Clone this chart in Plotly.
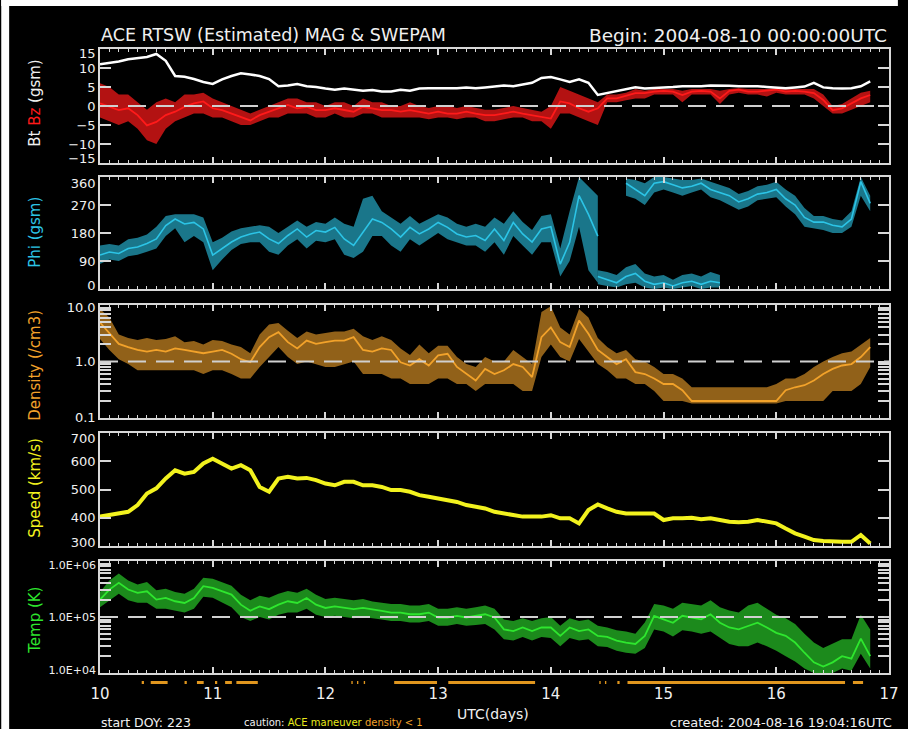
import math
import plotly.graph_objects as go

# ---------------- data (2-hour sampling from 2004-08-10 00 UT) ----------
hours = list(range(0, 166, 2))          # hours since day 10.0

bt = [11.0, 11.4, 11.7, 12.3, 12.6, 12.9, 13.7, 11.9, 7.9, 7.7,
      7.1, 6.3, 5.8, 7.0, 7.9, 8.6, 8.3, 7.9, 7.1, 5.2,
      5.4, 5.8, 5.2, 5.0, 4.6, 4.3, 4.6, 4.3, 4.0, 4.2,
      3.8, 3.8, 4.3, 4.0, 4.6, 4.7, 4.7, 4.7, 4.7, 4.9,
      4.7, 4.9, 5.2, 5.4, 5.2, 5.6, 6.1, 7.4, 7.6, 7.0,
      6.3, 7.0, 6.1, 2.9, 3.4, 4.0, 4.3, 4.9, 4.6, 4.7,
      4.9, 5.0, 5.2, 5.2, 5.2, 5.4, 5.4, 5.3, 5.2, 5.2,
      5.2, 5.0, 4.9, 4.7, 4.9, 5.1, 6.1, 4.9, 4.7, 4.6,
      4.7, 5.2, 6.5]

bz = [0.7, -0.2, -1.1, -0.6, -2.4, -5.1, -4.2, -2.4, -1.5, -0.2,
      0.7, 1.2, -0.6, -1.1, -2.0, -2.9, -3.8, -2.4, -1.5, -0.6,
      0.3, -0.6, -0.2, -1.1, -1.1, -0.6, -1.1, -1.5, -0.2, -0.6,
      -1.1, -1.1, -1.5, -1.1, -1.5, -2.0, -1.5, -2.0, -2.0, -1.5,
      -2.0, -2.4, -2.4, -2.0, -1.5, -2.0, -2.4, -2.9, -3.3, 1.2,
      0.7, -0.6, -1.5, -0.6, 2.0, 2.0, 2.8, 3.4, 3.4, 3.8,
      4.0, 3.8, 2.9, 3.8, 4.0, 3.8, 2.0, 4.0, 4.3, 3.8,
      3.8, 4.0, 4.3, 3.8, 4.0, 3.8, 3.4, 1.6, -1.1, -0.6,
      0.7, 2.0, 2.9]
bz_lo = [-3, -4, -5, -4, -6, -9, -10, -6, -4, -3,
         -2, -2, -3, -3, -4, -5, -5, -4, -3, -3,
         -2, -2, -2, -3, -3, -2, -3, -3, -2, -2,
         -3, -3, -3, -3, -3, -3.5, -3, -3, -3.5, -3,
         -3, -4, -4, -3.5, -3, -3, -4, -4, -6, -2,
         -2, -3, -4, -5, 1, 1, 1.5, 2, 2, 3,
         3, 3, 1, 3, 3, 3, 0.5, 3, 3.5, 3,
         3, 2.5, 3.5, 3, 3, 3, 2, 0, -2, -2,
         -1, 0, 1]
bz_hi = [6, 5, 3, 3, 1, -1, 1, 2, 1, 3,
         3, 3.5, 2, 1, 0, -1, -2, -1, 0, 1,
         2, 2, 1, 1, 0, 1, 1, 0, 2, 1,
         1, 0, 0, 1, 0, -0.5, 0, 0, -0.5, 0,
         -0.5, -1, -1, -0.5, 0, -0.5, -1, -1.5, 0, 5,
         4, 3, 2, 1, 3, 3, 3.5, 4.5, 4, 4.5,
         4.5, 4.5, 4, 4.5, 4.5, 4.5, 4, 4.5, 4.7, 4.5,
         4.5, 4.5, 4.7, 4.5, 4.5, 4.5, 4.5, 3, 0, 0.5,
         2, 3.5, 4]

phi = [109, 119, 114, 130, 135, 146, 161, 204, 225, 209,
       214, 193, 109, 130, 151, 167, 177, 183, 161, 146,
       172, 193, 167, 188, 183, 198, 161, 140, 183, 225,
       214, 193, 167, 198, 177, 193, 214, 198, 177, 167,
       172, 156, 193, 156, 214, 177, 151, 193, 200, 80,
       150, 300, 240, 170, None, None, 340, 320, 300, 340,
       345, 335, 325, 330, 340, 320, 310, 300, 280, 290,
       305, 310, 320, 290, 270, 230, 215, 215, 205, 200,
       225, 345, 275]
phi_lo = [80, 95, 90, 105, 110, 120, 130, 170, 195, 150,
          170, 150, 60, 95, 125, 145, 150, 150, 120, 110,
          140, 160, 130, 155, 150, 160, 110, 100, 120, 170,
          170, 140, 120, 160, 140, 160, 180, 160, 150, 140,
          140, 120, 150, 110, 170, 140, 110, 150, 150, 40,
          90, 200, 60, 20, None, None, 300, 290, 270, 310,
          320, 310, 300, 310, 320, 295, 285, 270, 255, 265,
          285, 290, 295, 265, 240, 200, 195, 190, 180, 180,
          200, 300, 250]
phi_hi = [140, 145, 140, 160, 165, 175, 200, 235, 240, 240,
          240, 230, 150, 165, 185, 195, 200, 205, 200, 180,
          200, 220, 200, 215, 210, 230, 210, 200, 290, 300,
          250, 230, 210, 235, 210, 225, 240, 230, 210, 200,
          210, 200, 230, 210, 250, 215, 190, 235, 240, 130,
          250, 360, 330, 300, None, None, 355, 350, 340, 360,
          360, 355, 350, 350, 355, 345, 335, 325, 305, 315,
          330, 335, 345, 320, 300, 260, 235, 235, 225, 220,
          250, 360, 300]
# wrapped (near 0 deg) branch of Phi
phi2_hours = list(range(106, 134, 2))
phi2 = [40, 30, 20, 40, 50, 25, 15, 20, 10, 20, 25, 15, 25, 20]
phi2_lo = [15, 10, 5, 15, 20, 5, 0, 5, 0, 5, 10, 0, 5, 5]
phi2_hi = [60, 55, 45, 70, 80, 50, 40, 45, 30, 45, 50, 40, 55, 45]

density = [4.9, 3.1, 2.05, 1.8, 1.6, 1.5, 1.6, 1.5, 1.7, 1.6,
           1.5, 1.4, 1.5, 1.6, 1.37, 1.1, 0.97, 1.8, 2.7, 3.3,
           2.2, 1.7, 2.35, 2.05, 2.2, 2.35, 2.35, 2.7, 1.6, 1.5,
           1.7, 1.6, 0.97, 0.85, 1.1, 0.85, 1.28, 1.37, 0.8, 0.6,
           0.46, 0.74, 0.6, 0.7, 0.9, 0.8, 0.53, 2.7, 4.0, 2.2,
           1.8, 5.3, 3.1, 1.6, 1.2, 0.9, 1.1, 0.65, 0.6, 0.5,
           0.4, 0.4, 0.31, 0.2, 0.2, 0.2, 0.2, 0.2, 0.2, 0.2,
           0.2, 0.2, 0.2, 0.31, 0.35, 0.38, 0.46, 0.6, 0.74, 0.85,
           0.9, 1.2, 1.8]
density_lo = [2.5, 1.6, 1.1, 0.9, 0.7, 0.7, 0.7, 0.7, 0.7, 0.7,
              0.7, 0.6, 0.7, 0.7, 0.6, 0.5, 0.5, 0.8, 1.2, 1.8,
              1.2, 0.9, 1.0, 0.9, 0.8, 0.8, 0.9, 1.0, 0.6, 0.6,
              0.6, 0.5, 0.5, 0.4, 0.4, 0.4, 0.5, 0.5, 0.4, 0.4,
              0.3, 0.4, 0.4, 0.4, 0.4, 0.3, 0.3, 1.2, 2.0, 1.2,
              1.0, 2.5, 1.5, 0.9, 0.7, 0.5, 0.5, 0.4, 0.4, 0.3,
              0.2, 0.2, 0.2, 0.18, 0.18, 0.18, 0.18, 0.18, 0.18, 0.18,
              0.18, 0.18, 0.18, 0.2, 0.2, 0.2, 0.2, 0.2, 0.3, 0.3,
              0.3, 0.4, 0.8]
density_hi = [8.5, 6.0, 3.0, 2.6, 2.4, 2.6, 2.4, 2.5, 2.8, 2.2,
              2.3, 2.0, 2.4, 2.3, 2.0, 1.8, 1.4, 3.0, 4.5, 4.8,
              3.5, 2.6, 3.4, 3.0, 3.2, 3.4, 3.4, 3.8, 2.8, 2.4,
              2.8, 2.4, 1.7, 1.3, 2.0, 1.4, 1.9, 1.9, 1.2, 0.9,
              0.8, 1.2, 1.0, 1.0, 1.6, 1.2, 0.9, 7.5, 9.5, 4.0,
              3.0, 8.5, 6.0, 2.6, 1.8, 1.4, 1.6, 1.1, 1.0, 0.8,
              0.6, 0.6, 0.5, 0.35, 0.35, 0.35, 0.35, 0.35, 0.35, 0.35,
              0.35, 0.35, 0.4, 0.5, 0.5, 0.6, 0.8, 1.0, 1.2, 1.4,
              1.5, 2.0, 2.6]

speed = [404, 409, 415, 421, 445, 486, 504, 539, 568, 556,
         562, 592, 609, 592, 574, 586, 568, 509, 492, 539,
         545, 539, 541, 533, 521, 515, 527, 527, 515, 515,
         509, 498, 498, 492, 480, 474, 468, 462, 456, 445,
         439, 433, 421, 415, 409, 404, 404, 404, 409, 398,
         398, 380, 427, 447, 433, 421, 415, 415, 412, 415,
         392, 398, 398, 400, 395, 398, 392, 386, 384, 386,
         392, 386, 380, 362, 345, 333, 321, 318, 315, 315,
         315, 339, 309]

temp = [2.04e5, 3.09e5, 4.07e5, 3.09e5, 2.69e5, 2.88e5, 2.04e5, 2.19e5, 1.91e5, 1.78e5,
        2.19e5, 3.55e5, 3.31e5, 2.88e5, 2.51e5, 1.66e5, 1.29e5, 1.55e5, 1.38e5, 1.66e5,
        1.91e5, 1.78e5, 2.19e5, 1.66e5, 1.45e5, 1.55e5, 1.45e5, 1.38e5, 1.45e5, 1.38e5,
        1.29e5, 1.20e5, 1.20e5, 1.12e5, 1.12e5, 1.20e5, 0.98e5, 0.98e5, 1.05e5, 0.98e5,
        1.05e5, 1.12e5, 0.98e5, 6.0e4, 5.6e4, 6.5e4, 5.6e4, 6.5e4, 6.5e4, 4.6e4,
        6.5e4, 5.6e4, 6.0e4, 4.6e4, 4.4e4, 3.8e4, 3.5e4, 3.3e4, 4.6e4, 1.05e5,
        9.1e4, 7.9e4, 1.05e5, 9.8e4, 9.1e4, 1.12e5, 7.9e4, 6.5e4, 6.0e4, 6.9e4,
        7.9e4, 6.5e4, 5.2e4, 4.6e4, 3.5e4, 2.3e4, 1.55e4, 1.3e4, 1.55e4, 2.0e4,
        1.8e4, 4.1e4, 2.0e4]
temp_lo = [1.5e5, 2.0e5, 2.6e5, 2.0e5, 1.8e5, 1.8e5, 1.4e5, 1.4e5, 1.3e5, 1.2e5,
           1.4e5, 2.3e5, 2.2e5, 1.8e5, 1.5e5, 1.0e5, 0.85e5, 1.0e5, 0.9e5, 1.1e5,
           1.2e5, 1.2e5, 1.4e5, 1.1e5, 1.0e5, 1.05e5, 1.0e5, 0.95e5, 1.0e5, 0.95e5,
           0.9e5, 0.85e5, 0.85e5, 0.8e5, 0.8e5, 0.85e5, 0.7e5, 0.7e5, 0.75e5, 0.7e5,
           0.72e5, 0.75e5, 0.6e5, 4.0e4, 3.8e4, 4.4e4, 3.8e4, 4.4e4, 4.2e4, 3.0e4,
           4.2e4, 3.8e4, 4.0e4, 3.0e4, 2.9e4, 2.5e4, 2.3e4, 2.2e4, 2.8e4, 6.0e4,
           5.5e4, 4.5e4, 5.8e4, 5.5e4, 5.0e4, 5.5e4, 4.2e4, 3.3e4, 3.0e4, 3.0e4,
           3.5e4, 3.0e4, 2.5e4, 2.0e4, 1.6e4, 1.2e4, 1.0e4, 1.0e4, 1.0e4, 1.2e4,
           1.1e4, 2.2e4, 1.2e4]
temp_hi = [2.8e5, 4.5e5, 6.0e5, 4.5e5, 3.8e5, 4.2e5, 3.0e5, 3.2e5, 2.8e5, 2.6e5,
           3.2e5, 5.0e5, 4.8e5, 4.2e5, 3.6e5, 2.5e5, 2.0e5, 2.4e5, 2.2e5, 2.6e5,
           2.9e5, 2.7e5, 3.2e5, 2.5e5, 2.1e5, 2.2e5, 2.1e5, 2.0e5, 2.1e5, 1.9e5,
           1.8e5, 1.7e5, 1.7e5, 1.6e5, 1.6e5, 1.7e5, 1.4e5, 1.4e5, 1.5e5, 1.4e5,
           1.5e5, 1.6e5, 1.4e5, 0.9e5, 0.85e5, 0.95e5, 0.85e5, 0.95e5, 1.0e5, 0.7e5,
           0.95e5, 0.85e5, 0.9e5, 0.7e5, 0.65e5, 0.58e5, 0.55e5, 0.5e5, 0.8e5, 1.7e5,
           1.6e5, 1.4e5, 1.8e5, 1.7e5, 1.6e5, 2.0e5, 1.5e5, 1.3e5, 1.2e5, 1.6e5,
           1.8e5, 1.4e5, 1.1e5, 0.95e5, 0.75e5, 0.5e5, 0.35e5, 0.28e5, 0.33e5, 0.4e5,
           0.4e5, 1.1e5, 0.6e5]

# "density < 1" caution flags (day-of-month intervals)
dens_lt1_start = [10.37, 10.45, 10.75, 10.86, 11.02, 11.11, 11.21, 12.23, 12.28, 12.34,
                  12.61, 13.09, 14.43, 14.48, 14.59, 14.68, 16.68]
dens_lt1_end = [10.39, 10.60, 10.77, 10.92, 11.04, 11.17, 11.40, 12.24, 12.29, 12.35,
                12.99, 13.86, 14.44, 14.49, 14.61, 16.61, 16.77]

x_ticks = [10, 11, 12, 13, 14, 15, 16, 17]
bt_ticks = [-15, -10, -5, 0, 5, 10, 15]
phi_ticks = [0, 90, 180, 270, 360]
den_ticks = [0.1, 1, 10]
den_labels = ["0.1", "1.0", "10.0"]
spd_ticks = [300, 400, 500, 600, 700]
tmp_ticks = [1e4, 1e5, 1e6]
tmp_labels = ["1.0E+04", "1.0E+05", "1.0E+06"]

# ---------------- styling ----------------
FONT = "DejaVu Sans"
AX = "#d8d8d8"
TXT = "#f0f0f0"
C_BT, C_BZ = "#ffffff", "#ff1a1a"
C_PHI, C_DEN, C_SPD, C_TMP = "#2cc4e6", "#f2a22a", "#f2f21e", "#2ee62e"
C_FLAG = "#e0961e"

days = [10 + h / 24 for h in hours]
days2 = [10 + h / 24 for h in phi2_hours]

fig = go.Figure()


def band(t, lo, hi, color, xa, ya):
    segs, cur = [], []
    for x, a, b in zip(t, lo, hi):
        if a is None or b is None:
            if cur:
                segs.append(cur)
            cur = []
        else:
            cur.append((x, a, b))
    if cur:
        segs.append(cur)
    for s in segs:
        xs = [p[0] for p in s] + [p[0] for p in reversed(s)]
        ys = [p[2] for p in s] + [p[1] for p in reversed(s)]
        fig.add_trace(go.Scatter(x=xs, y=ys, mode="lines", fill="toself", fillcolor=color,
                                 line=dict(width=0), hoverinfo="skip", showlegend=False,
                                 xaxis=xa, yaxis=ya))


def line(t, v, color, width, xa, ya):
    fig.add_trace(go.Scatter(x=t, y=v, mode="lines", line=dict(color=color, width=width),
                             connectgaps=False, showlegend=False, xaxis=xa, yaxis=ya))


# panel 1: Bt / Bz
band(days, bz_lo, bz_hi, "rgba(255,26,26,0.7)", "x", "y")
line(days, bz, C_BZ, 1.8, "x", "y")
line(days, bt, C_BT, 2.5, "x", "y")
# panel 2: Phi
band(days, phi_lo, phi_hi, "rgba(44,196,230,0.6)", "x2", "y2")
band(days2, phi2_lo, phi2_hi, "rgba(44,196,230,0.6)", "x2", "y2")
line(days, phi, C_PHI, 1.6, "x2", "y2")
line(days2, phi2, C_PHI, 1.6, "x2", "y2")
# panel 3: Density
band(days, density_lo, density_hi, "rgba(242,162,42,0.6)", "x3", "y3")
line(days, density, C_DEN, 1.8, "x3", "y3")
# panel 4: Speed
line(days, speed, C_SPD, 4, "x4", "y4")
# panel 5: Temperature
band(days, temp_lo, temp_hi, "rgba(46,230,46,0.6)", "x5", "y5")
line(days, temp, C_TMP, 1.8, "x5", "y5")
# density < 1 flags strip
fx, fy = [], []
for s, e in zip(dens_lt1_start, dens_lt1_end):
    fx += [s, max(e, s + 0.012), None]
    fy += [0.5, 0.5, None]
fig.add_trace(go.Scatter(x=fx, y=fy, mode="lines", line=dict(color=C_FLAG, width=3),
                         showlegend=False, xaxis="x5", yaxis="y6"))

# ---------------- axes ----------------
W, H = 908, 729
PLOT_L, PLOT_R = 100, 899
PAPER_TOP, PAPER_BOT = 49, 690
PW = PLOT_R - PLOT_L
PH = PAPER_BOT - PAPER_TOP
# panel (top, bottom) in page pixels
panels_px = [(49, 163), (177, 289), (305, 418), (433, 546), (561, 673)]
domains = [((PAPER_BOT - b) / PH, (PAPER_BOT - t) / PH) for t, b in panels_px]
tickfont = dict(family=FONT, size=13, color=TXT)

layout = dict(
    width=W, height=H,
    margin=dict(l=PLOT_L, r=W - PLOT_R, t=PAPER_TOP, b=H - PAPER_BOT, pad=0),
    paper_bgcolor="black", plot_bgcolor="black",
    showlegend=False, hovermode=False,
    font=dict(family=FONT, color=TXT),
)
for i in range(1, 6):
    k = "" if i == 1 else str(i)
    layout["xaxis" + k] = dict(
        domain=[0, 1], range=[10, 17], anchor="y" + k,
        showline=True, linecolor=AX, linewidth=1.5, mirror="ticks",
        ticks="inside", ticklen=6, tickwidth=1.5, tickcolor=AX,
        tickvals=x_ticks, showgrid=False, zeroline=False,
        showticklabels=(i == 5),
        tickfont=dict(family=FONT, size=15, color=TXT), ticklabelstandoff=6,
        minor=dict(ticks="inside", ticklen=3, tickwidth=1, tickcolor=AX,
                   dtick=1 / 12, tick0=10, showgrid=False),
    )


def yaxis(i, ticks, labels, lo, hi, shift_top, shift_bot, log=False, minor_extra=(), font=None):
    """Tick marks at the true values (drawn as minor ticks); end labels nudged inward
    like the original IDL plot."""
    t, b = panels_px[i - 1]
    hpx = b - t
    f = (lambda v: math.log10(v)) if log else (lambda v: v)
    g = (lambda v: 10 ** v) if log else (lambda v: v)
    span = f(hi) - f(lo)
    lab_pos = []
    for v in ticks:
        u = f(v)
        if abs(u - f(hi)) < 1e-9:
            u -= shift_top * span / hpx
        elif abs(u - f(lo)) < 1e-9:
            u += shift_bot * span / hpx
        lab_pos.append(g(u))
    return dict(
        domain=list(domains[i - 1]), anchor="x" + ("" if i == 1 else str(i)),
        type="log" if log else "linear",
        range=[f(lo), f(hi)],
        showline=True, linecolor=AX, linewidth=1.5, mirror="ticks",
        tickmode="array", tickvals=lab_pos, ticktext=labels,
        ticks="inside", ticklen=0, tickcolor=AX,
        showgrid=False, zeroline=False, tickfont=font or tickfont,
        minor=dict(tickmode="array", tickvals=list(ticks) + list(minor_extra),
                   ticks="inside", ticklen=11, tickwidth=1.5, tickcolor=AX, showgrid=False),
    )


def fmt(v):
    return str(v).replace("-", "\u2212")


layout["yaxis"] = yaxis(1, bt_ticks, [fmt(v) for v in bt_ticks], -15, 15, 4, 5)
layout["yaxis2"] = yaxis(2, phi_ticks, [str(v) for v in phi_ticks], 0, 360, 6, 4)
layout["yaxis3"] = yaxis(3, den_ticks, den_labels, 0.1, 10, 2, 1, log=True,
                         minor_extra=[0.2, 0.3, 0.4, 0.5, 0.6, 0.7, 0.8, 0.9,
                                      2, 3, 4, 5, 6, 7, 8, 9])
layout["yaxis4"] = yaxis(4, spd_ticks, [str(v) for v in spd_ticks], 300, 700, 5, 4)
layout["yaxis5"] = yaxis(5, tmp_ticks, tmp_labels, 1e4, 1e6, 4, 3, log=True,
                         minor_extra=[2e4, 3e4, 4e4, 5e4, 6e4, 7e4, 8e4, 9e4,
                                      2e5, 3e5, 4e5, 5e5, 6e5, 7e5, 8e5, 9e5],
                         font=dict(family=FONT, size=11, color=TXT))
layout["yaxis6"] = dict(domain=[(PAPER_BOT - 686) / PH, (PAPER_BOT - 679) / PH],
                        range=[0, 1], anchor="x5", visible=False)
fig.update_layout(**layout)

# dashed reference lines
for xa, ya, val in [("x", "y", 0), ("x3", "y3", 1.0), ("x5", "y5", 1e5)]:
    fig.add_shape(type="line", xref=xa + " domain", yref=ya, x0=0, x1=1, y0=val, y1=val,
                  layer="above", line=dict(color="#d0d0d0", width=2, dash="18px,10px"))


# ---------------- text ----------------
def px_x(x):
    return (x - PLOT_L) / PW


def px_y(y):
    return (PAPER_BOT - y) / PH


# white page border (left / top) as in the original screenshot
for x0, y0, x1, y1 in [(0, 0, 8, H), (0, 0, W, 6)]:
    fig.add_shape(type="rect", xref="paper", yref="paper",
                  x0=px_x(x0), x1=px_x(x1), y0=px_y(y1), y1=px_y(y0),
                  fillcolor="white", line=dict(width=0), layer="above")


def ann(text, x, y, size, xanchor="center", angle=0, color=TXT):
    fig.add_annotation(text=text, x=px_x(x), y=px_y(y), xref="paper", yref="paper",
                       showarrow=False, xanchor=xanchor, yanchor="middle", textangle=angle,
                       font=dict(family=FONT, size=size, color=color))


ann("ACE RTSW (Estimated) MAG &amp; SWEPAM", 99, 35, 17.5, "left")
ann("Begin: 2004-08-10 00:00:00UTC", 899, 35, 18.5, "right")
ann("Bt <span style='color:%s'>Bz</span> (gsm)" % C_BZ, 34, 103, 15, angle=-90)
ann("Phi (gsm)", 34, 232, 15, angle=-90, color=C_PHI)
ann("Density (/cm3)", 34, 365, 15, angle=-90, color=C_DEN)
ann("Speed (km/s)", 34, 488, 15, angle=-90, color=C_SPD)
ann("Temp (K)", 34, 620, 15, angle=-90, color=C_TMP)
ann("UTC(days)", 498, 714, 14)
ann("start DOY: 223", 99, 722, 12.5, "left")
ann("caution: <span style='color:#e8e81a'>ACE maneuver</span> "
    "<span style='color:%s'>density &lt; 1</span>" % C_DEN, 244, 722, 10, "left")
ann("created: 2004-08-16 19:04:16UTC", 904, 722, 13, "right")

fig.write_html(
    "out.html",
    config={"displayModeBar": False},
    post_script="document.documentElement.style.overflow='hidden';"
                "document.body.style.margin='0px';document.body.style.overflow='hidden';",
)
